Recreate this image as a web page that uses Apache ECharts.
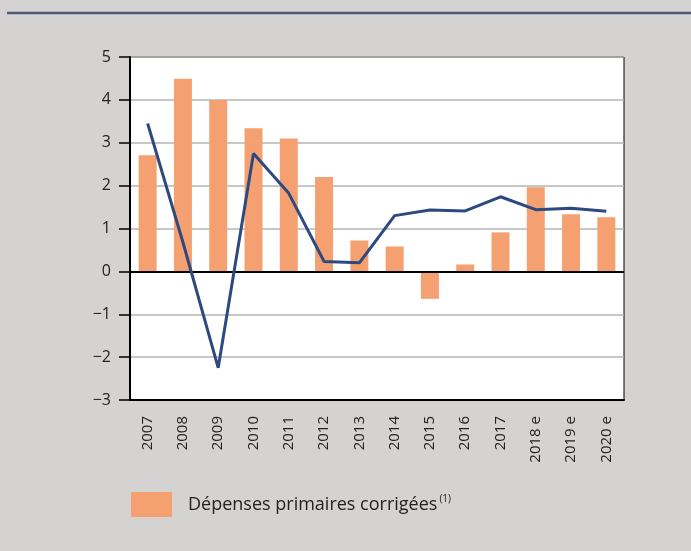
<!DOCTYPE html>
<html>
<head>
<meta charset="utf-8">
<script src="https://cdn.jsdelivr.net/npm/echarts@6/dist/echarts.min.js"></script>
<style>
html,body{margin:0;padding:0;background:#d4d3d1;}
#c{width:691px;height:551px;}
</style>
</head>
<body>
<div id="c"></div>
<script>
const categories = ['2007','2008','2009','2010','2011','2012','2013','2014','2015','2016','2017','2018 e','2019 e','2020 e'];
const barValues = [2.71, 4.49, 4.0, 3.34, 3.1, 2.2, 0.72, 0.58, -0.64, 0.16, 0.91, 1.96, 1.33, 1.26];
const lineValues = [3.45, 0.68, -2.25, 2.75, 1.82, 0.23, 0.2, 1.3, 1.43, 1.41, 1.74, 1.44, 1.47, 1.40];
const yTicks = [-3, -2, -1, 0, 1, 2, 3, 4, 5];
const barName = 'Dépenses primaires corrigées';

const chart = echarts.init(document.getElementById('c'), null, {renderer: 'canvas'});
chart.setOption({
  backgroundColor: '#d4d3d1',
  animation: false,
  graphic: [{
    type: 'line', shape: {x1: 7, y1: 13, x2: 691, y2: 13},
    style: {stroke: '#4a5a7c', lineWidth: 2.5}
  }],
  grid: {left: 130, right: 67, top: 57, bottom: 151, show: true, backgroundColor: '#ffffff', borderColor: '#000', borderWidth: 1},
  legend: {
    data: [barName], left: 131, top: 492, padding: 0, icon: 'rect', itemWidth: 41, itemHeight: 25,
    formatter: function (n) { return '{a|' + n + '}{s|(1)}'; },
    textStyle: {
      padding: [0, 0, 0, 11],
      rich: {
        a: {fontFamily: 'Open Sans', fontSize: 18, color: '#222'},
        s: {fontFamily: 'Open Sans', fontSize: 10, color: '#222', verticalAlign: 'top', padding: [0, 0, 10, 2]}
      }
    }
  },
  xAxis: {
    type: 'category', data: categories,
    axisLine: {onZero: false, lineStyle: {color: '#000', width: 2}},
    axisTick: {inside: true, length: 12, lineStyle: {color: '#000', width: 1.5}, alignWithLabel: false},
    axisLabel: {rotate: 90, margin: 16, fontFamily: 'Open Sans', fontSize: 15, color: '#222', interval: 0},
    splitLine: {show: false}
  },
  yAxis: {
    type: 'value', min: yTicks[0], max: yTicks[yTicks.length - 1], interval: 1,
    axisLine: {show: true, lineStyle: {color: '#000', width: 2}},
    axisTick: {show: true, length: 11, lineStyle: {color: '#000', width: 1.5}},
    axisLabel: {margin: 19, fontFamily: 'Open Sans', fontSize: 16, color: '#222',
      formatter: function (v) { return v < 0 ? '\u2212' + Math.abs(v) : String(v); }},
    splitLine: {show: true, lineStyle: {color: '#b4b4b4', width: 1.5}}
  },
  series: [{
    name: barName, type: 'bar', data: barValues, barWidth: 18,
    itemStyle: {color: '#f5a071'},
    markLine: {silent: true, symbol: 'none', label: {show: false},
      lineStyle: {color: '#000', width: 2, type: 'solid'}, data: [{yAxis: 0}]}
  }, {
    name: 'line', type: 'line', data: lineValues, symbol: 'none',
    lineStyle: {color: '#2c4a80', width: 3}, z: 5
  }]
});
</script>
</body>
</html>
